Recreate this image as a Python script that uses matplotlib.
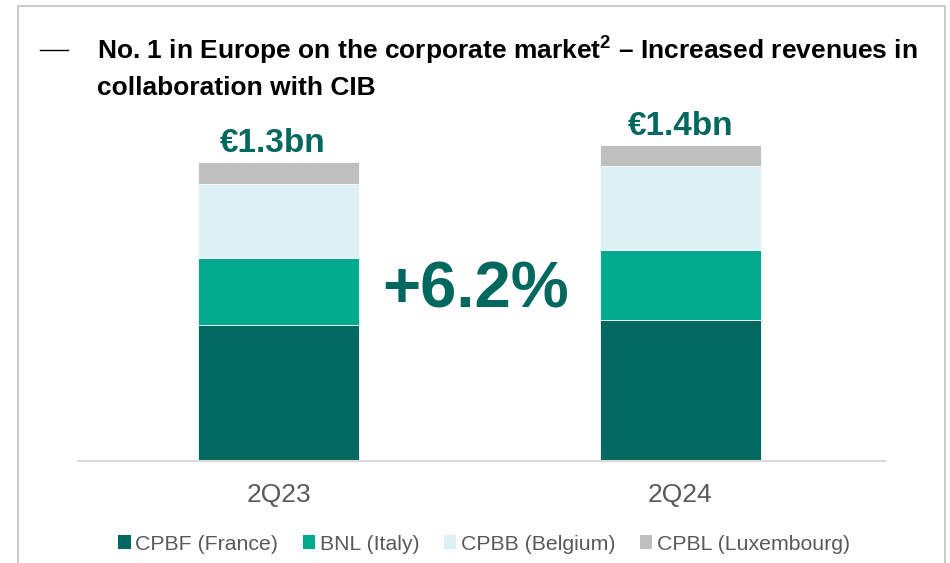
import matplotlib
matplotlib.use("Agg")
import matplotlib.pyplot as plt
from matplotlib.patches import Patch
from matplotlib.lines import Line2D

plt.rcParams['font.family'] = ['Liberation Sans', 'DejaVu Sans']
plt.rcParams['mathtext.fontset'] = 'custom'
plt.rcParams['mathtext.rm'] = 'Liberation Sans'
plt.rcParams['mathtext.bf'] = 'Liberation Sans:bold'

# Revenues by entity, EUR bn
quarters = ["2Q23", "2Q24"]
cpbf = [0.590, 0.614]   # CPBF (France)
bnl = [0.293, 0.303]    # BNL (Italy)
cpbb = [0.323, 0.365]   # CPBB (Belgium)
cpbl = [0.096, 0.093]   # CPBL (Luxembourg)
series_names = ["CPBF (France)", "BNL (Italy)", "CPBB (Belgium)", "CPBL (Luxembourg)"]
growth_label = "+6.2%"

colors = ["#00685E", "#00AA8C", "#DDF0F3", "#BFBFBF"]
brand = "#00685E"
grey_text = "#595959"

W, H = 950, 563
fig = plt.figure(figsize=(W / 100, H / 100), dpi=100)

# Panel frame (open at the bottom)
frame_kw = dict(color="#C9C9C9", lw=1.4, transform=fig.transFigure)
fig.add_artist(Line2D([18 / W, 18 / W], [0, 1 - 6 / H], **frame_kw))
fig.add_artist(Line2D([18 / W, 945 / W], [1 - 6 / H, 1 - 6 / H], **frame_kw))
fig.add_artist(Line2D([945 / W, 945 / W], [0, 1 - 6 / H], **frame_kw))

# Title with leading dash
fig.add_artist(Line2D([40 / W, 68 / W], [1 - 50 / H, 1 - 50 / H], color="black", lw=1.0,
                      transform=fig.transFigure))
fig.text(97 / W, 1 - 50 / H,
         r"No. 1 in Europe on the corporate market$^{\mathbf{2}}$ – Increased revenues in",
         fontsize=19, fontweight="bold", color="black", va="center", ha="left")
fig.text(97 / W, 1 - 88 / H, "collaboration with CIB",
         fontsize=19, fontweight="bold", color="black", va="center", ha="left")

# Chart area
ax_left, ax_right, ax_bottom, ax_top = 78, 885, 461, 93
ax = fig.add_axes([ax_left / W, (H - ax_bottom) / H, (ax_right - ax_left) / W, (ax_bottom - ax_top) / H])

x = list(range(len(quarters)))
bottoms = [0.0] * len(quarters)
for vals, col, name in zip([cpbf, bnl, cpbb, cpbl], colors, series_names):
    ax.bar(x, vals, width=0.40, bottom=bottoms, color=col, edgecolor="white", linewidth=0.6, label=name)
    bottoms = [b + v for b, v in zip(bottoms, vals)]

for xi, tot in zip(x, bottoms):
    ax.annotate(f"€{tot:.1f}bn", (xi, tot), xytext=(-4 if xi == 0 else 0, 2), textcoords="offset points",
                ha="center", va="bottom", fontsize=24, fontweight="bold", color=brand)

ax.text(0.49, 0.74, growth_label, ha="center", va="center", fontsize=47, fontweight="bold", color=brand)

ax.set_xlim(-0.5, 1.51)
ax.set_ylim(0, 1.6)
ax.set_xticks(x)
ax.set_xticklabels(quarters, fontsize=19, color=grey_text)
ax.tick_params(axis="x", length=0, pad=16)
ax.set_yticks([])
for s in ["left", "right", "top"]:
    ax.spines[s].set_visible(False)
ax.spines["bottom"].set_color("#D9D9D9")
ax.spines["bottom"].set_linewidth(1.5)
ax.patch.set_alpha(0)

handles = [Patch(facecolor=c, edgecolor="none") for c in colors]
leg = fig.legend(handles, series_names, loc="center", bbox_to_anchor=(484 / W, 1 - 544 / H), ncol=4,
                 frameon=False, fontsize=15.3, handlelength=0.6, handleheight=0.6, handletextpad=0.2,
                 columnspacing=1.15, borderaxespad=0)
for t in leg.get_texts():
    t.set_color(grey_text)

fig.savefig("out.png", dpi=100)
